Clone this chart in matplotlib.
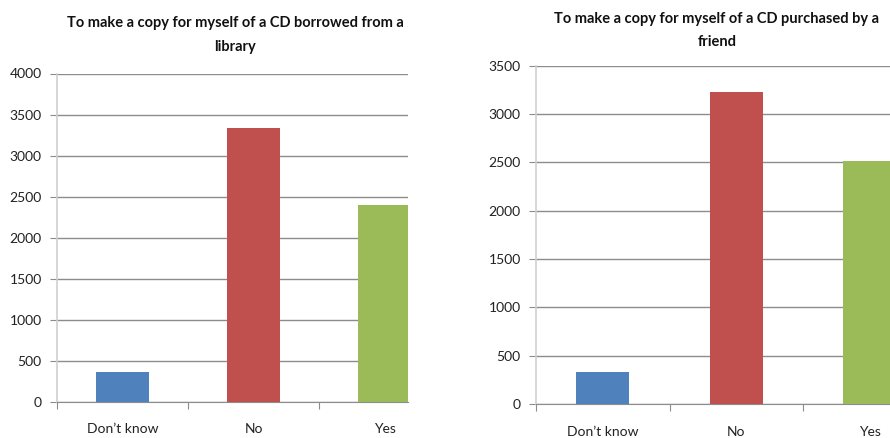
import matplotlib
matplotlib.use('Agg')
import matplotlib.pyplot as plt
import numpy as np

# 数据
categories = ["Don\u2019t know", "No", "Yes"]
library_values = [368, 3335, 2395]
friend_values = [334, 3231, 2514]
bar_colors = ['#4F81BD', '#C0504D', '#9BBB59']
title_left = "To make a copy for myself of a CD borrowed from a\nlibrary"
title_right = "To make a copy for myself of a CD purchased by a\nfriend"

plt.rcParams['font.family'] = ['Lato', 'DejaVu Sans']

W, H = 890, 438


def px_axes(fig, x0, x1, ytop, ybot):
    """像素坐标转figure比例"""
    return fig.add_axes([x0 / W, (H - ybot) / H, (x1 - x0) / W, (ybot - ytop) / H])


def draw(ax, values, ymax, xmax):
    x = np.arange(len(categories))
    ax.bar(x, values, width=0.4, color=bar_colors, zorder=3)
    ax.set_xlim(-0.5, xmax)
    ax.set_ylim(0, ymax)
    ax.set_yticks(np.arange(0, ymax + 1, 500))
    ax.yaxis.grid(True, color='#8c8c8c', linewidth=1.0, zorder=0)
    ax.set_axisbelow(True)
    # x轴刻度在类别边界
    ax.set_xticks(np.arange(-0.5, xmax, 1.0))
    ax.set_xticklabels([])
    ax.set_xticks(x, minor=True)
    ax.set_xticklabels(categories, minor=True)
    ax.tick_params(axis='x', which='major', length=5, color='#8c8c8c', direction='out')
    ax.tick_params(axis='x', which='minor', length=0, pad=15.5, labelsize=10, labelcolor='#222222')
    ax.tick_params(axis='y', length=5, color='#8c8c8c', pad=6, labelsize=10, labelcolor='#222222')
    for s in ['top', 'right']:
        ax.spines[s].set_visible(False)
    ax.spines['left'].set_color('#d0d0d0')
    ax.spines['bottom'].set_color('#8c8c8c')
    ax.spines['left'].set_linewidth(1.2)


fig = plt.figure(figsize=(W / 100, H / 100), dpi=100)

ax1 = px_axes(fig, 57, 408, 73.5, 401.7)
draw(ax1, library_values, 4000, -0.5 + 351 / 131.0)

ax2 = px_axes(fig, 536, 890, 65.7, 404)
draw(ax2, friend_values, 3500, -0.5 + 354 / 133.5)

fig.text(235 / W, 1 - 16 / H, title_left, ha='center', va='top', fontsize=10.5,
         fontweight='bold', linespacing=1.95, color='#111111')
fig.text(717 / W, 1 - 12 / H, title_right, ha='center', va='top', fontsize=10.5,
         fontweight='bold', linespacing=1.8, color='#111111')

plt.savefig('out.png', dpi=100)
